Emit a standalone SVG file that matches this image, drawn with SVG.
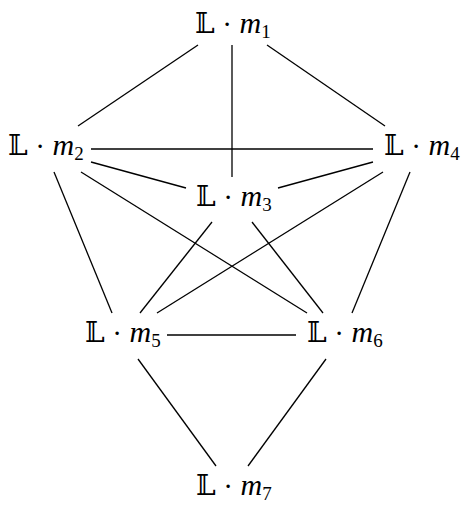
<svg xmlns="http://www.w3.org/2000/svg" width="461" height="511" viewBox="0 0 461 511">
<style>
.e line{stroke:#000;stroke-width:1.3;fill:none}
.n text{font-family:"DejaVu Serif","Liberation Serif",serif;font-size:26px;fill:#000}
.bb{font-family:"DejaVu Serif",serif;font-size:28px;fill:#000}
.m{font-family:"Liberation Serif",serif;font-style:italic;font-size:30px;fill:#000}
.s{font-family:"Liberation Serif",serif;font-size:19px;fill:#000}
</style>
<rect width="461" height="511" fill="#fff"/>
<g class="e" id="edges">
<line x1="198" y1="45" x2="78" y2="126"/>
<line x1="232" y1="45" x2="232" y2="177"/>
<line x1="267" y1="45" x2="385" y2="126"/>
<line x1="91" y1="149" x2="373" y2="149"/>
<line x1="91" y1="162" x2="186" y2="188"/>
<line x1="373" y1="162" x2="278" y2="188"/>
<line x1="54" y1="172" x2="112" y2="313"/>
<line x1="81" y1="172" x2="307" y2="313"/>
<line x1="212" y1="222" x2="140" y2="313"/>
<line x1="252" y1="222" x2="323" y2="313"/>
<line x1="383" y1="172" x2="157" y2="313"/>
<line x1="410" y1="172" x2="352" y2="313"/>
<line x1="167" y1="335" x2="296" y2="335"/>
<line x1="138" y1="359" x2="216" y2="466"/>
<line x1="326" y1="359" x2="248" y2="466"/>
</g>
<g class="n" id="m1"><text x="195" y="33"><tspan class="bb">𝕃</tspan> · <tspan class="m">m</tspan><tspan class="s" dy="5">1</tspan></text></g>
<g class="n" id="m2"><text x="8" y="155"><tspan class="bb">𝕃</tspan> · <tspan class="m">m</tspan><tspan class="s" dy="5">2</tspan></text></g>
<g class="n" id="m3"><text x="196" y="206"><tspan class="bb">𝕃</tspan> · <tspan class="m">m</tspan><tspan class="s" dy="5">3</tspan></text></g>
<g class="n" id="m4"><text x="384" y="155"><tspan class="bb">𝕃</tspan> · <tspan class="m">m</tspan><tspan class="s" dy="5">4</tspan></text></g>
<g class="n" id="m5"><text x="85" y="342"><tspan class="bb">𝕃</tspan> · <tspan class="m">m</tspan><tspan class="s" dy="5">5</tspan></text></g>
<g class="n" id="m6"><text x="307" y="342"><tspan class="bb">𝕃</tspan> · <tspan class="m">m</tspan><tspan class="s" dy="5">6</tspan></text></g>
<g class="n" id="m7"><text x="196" y="495"><tspan class="bb">𝕃</tspan> · <tspan class="m">m</tspan><tspan class="s" dy="5">7</tspan></text></g>
</svg>
